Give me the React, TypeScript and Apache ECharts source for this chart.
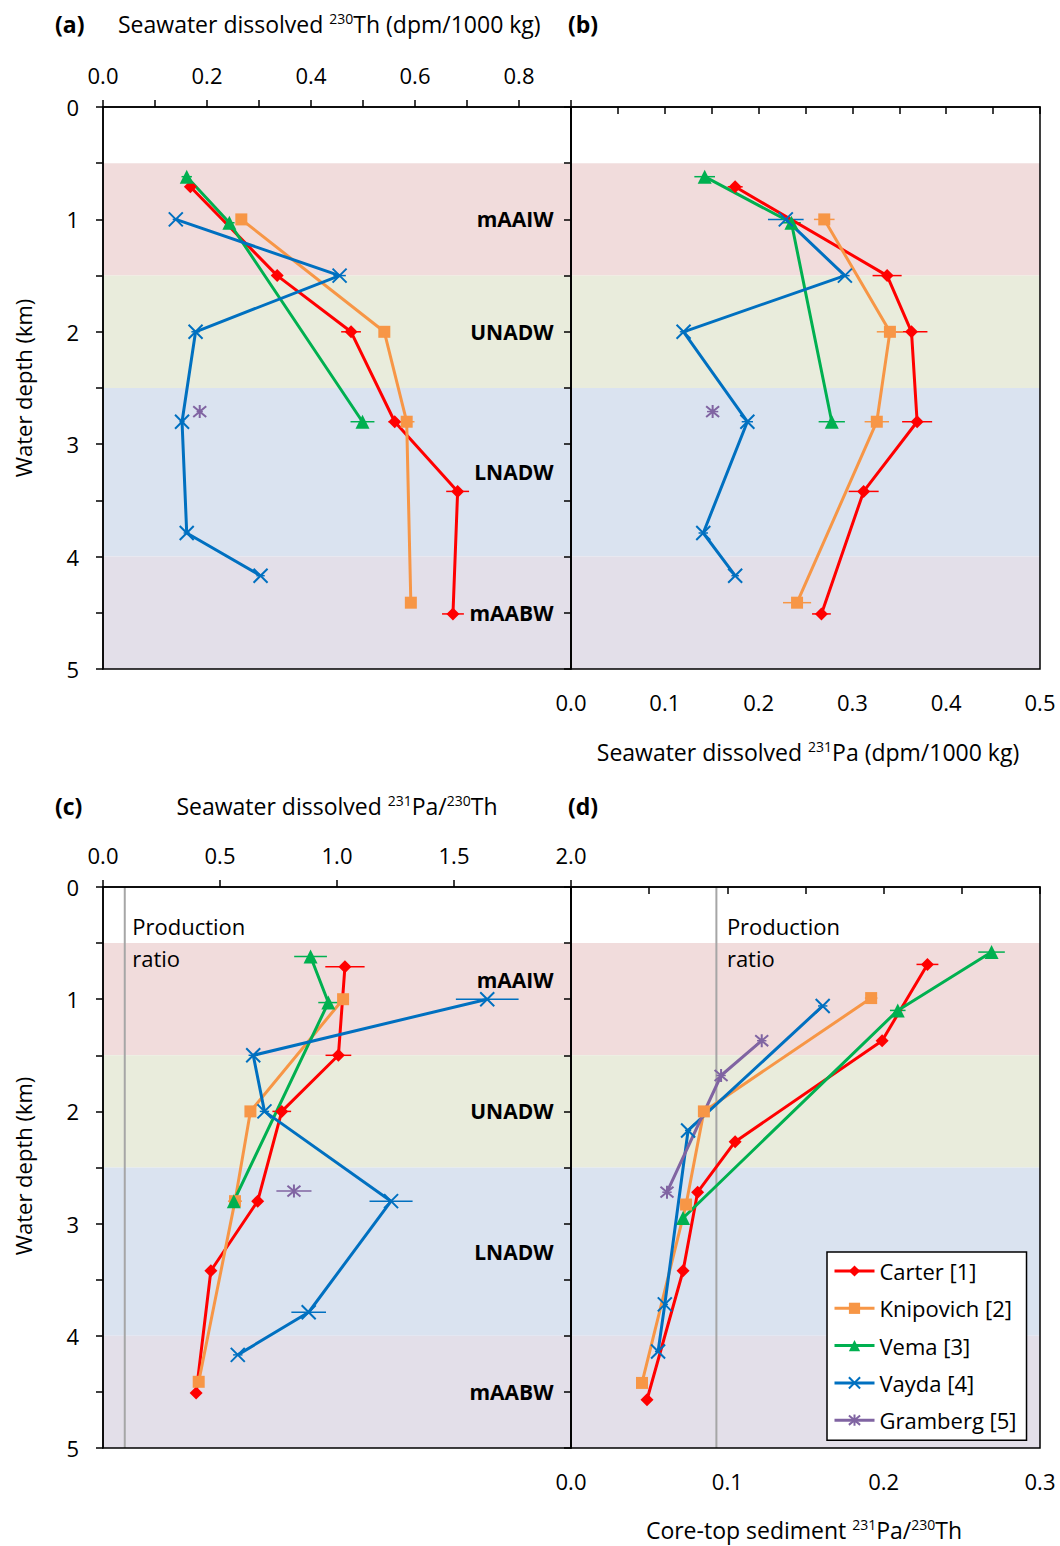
import React, { useEffect, useRef } from 'react';
import * as echarts from 'echarts';

const FONT = '"Open Sans", "Noto Sans", sans-serif';
const FS = 22;
const TFS = 23;

// ---------- Data ----------
// Water-column station depths (km)
const carterDepth = [0.71, 1.5, 2.0, 2.8, 3.42, 4.51];
const knipovichDepth = [1.0, 2.0, 2.8, 4.41];
const vemaDepth = [0.62, 1.03, 2.8];
const vaydaDepth = [1.0, 1.5, 2.0, 2.8, 3.79, 4.17];
const grambergDepth = [2.71];

// (a) Seawater dissolved 230Th (dpm/1000 kg)
const carterTh = [0.168, 0.335, 0.477, 0.561, 0.682, 0.673];
const knipovichTh = [0.266, 0.541, 0.584, 0.592];
const vemaTh = [0.161, 0.243, 0.499];
const vaydaTh = [0.14, 0.455, 0.178, 0.152, 0.161, 0.303];
const grambergTh = [0.186];
const carterThErr = [0.008, 0.01, 0.019, 0.012, 0.022, 0.021];
const knipovichThErr = [0.01, 0.01, 0.015, 0.008];
const vemaThErr = [0.01, 0.01, 0.023];
const vaydaThErr = [0.006, 0.012, 0.008, 0.005, 0.006, 0.008];
const grambergThErr = [0.006];

// (b) Seawater dissolved 231Pa (dpm/1000 kg)
const carterPa = [0.175, 0.337, 0.363, 0.369, 0.312, 0.267];
const knipovichPa = [0.27, 0.34, 0.326, 0.241];
const vemaPa = [0.1425, 0.235, 0.278];
const vaydaPa = [0.229, 0.292, 0.12, 0.188, 0.141, 0.175];
const grambergPa = [0.151];
const carterPaErr = [0.008, 0.0155, 0.017, 0.016, 0.016, 0.01];
const knipovichPaErr = [0.011, 0.014, 0.013, 0.015];
const vemaPaErr = [0.011, 0.01, 0.014];
const vaydaPaErr = [0.019, 0.005, 0.004, 0.006, 0.005, 0.004];
const grambergPaErr = [0.006];

// (c) Seawater dissolved 231Pa/230Th
const carterRatio = [1.034, 1.006, 0.764, 0.661, 0.461, 0.398];
const knipovichRatio = [1.026, 0.63, 0.564, 0.409];
const vemaRatio = [0.887, 0.963, 0.559];
const vaydaRatio = [1.642, 0.642, 0.69, 1.231, 0.879, 0.576];
const grambergRatio = [0.816];
const carterRatioErr = [0.084, 0.055, 0.04, 0.02, 0.015, 0.012];
const knipovichRatioErr = [0.02, 0.012, 0.03, 0.015];
const vemaRatioErr = [0.07, 0.043, 0.02];
const vaydaRatioErr = [0.134, 0.02, 0.02, 0.092, 0.074, 0.02];
const grambergRatioErr = [0.075];

// (d) Core-top sediment 231Pa/230Th
const carterSedDepth = [0.69, 1.37, 2.27, 2.72, 3.42, 4.57];
const knipovichSedDepth = [0.99, 2.0, 2.83, 4.42];
const vemaSedDepth = [0.58, 1.1, 2.95];
const vaydaSedDepth = [1.06, 2.17, 3.72, 4.14];
const grambergSedDepth = [1.37, 1.68, 2.72];
const carterSed = [0.228, 0.199, 0.105, 0.081, 0.0717, 0.0486];
const knipovichSed = [0.192, 0.085, 0.0736, 0.0454];
const vemaSed = [0.269, 0.209, 0.0717];
const vaydaSed = [0.161, 0.0749, 0.06, 0.0557];
const grambergSed = [0.122, 0.096, 0.0614];
const carterSedErr = [0.007, 0.003, 0.002, 0.002, 0.002, 0.002];
const knipovichSedErr = [0.004, 0.003, 0.002, 0.002];
const vemaSedErr = [0.0085, 0.005, 0.002];
const vaydaSedErr = [0.003, 0.002, 0.002, 0.002];
const grambergSedErr = [0.003, 0.003, 0.003];

const productionRatio = 0.093;

// Water masses
const waterMasses = ['mAAIW', 'UNADW', 'LNADW', 'mAABW'];
const bandTop = [0.5, 1.5, 2.5, 4.0];
const bandBottom = [1.5, 2.5, 4.0, 5.0];
const labelDepthA = [1.0, 2.0, 3.25, 4.5];
const labelDepthC = [0.83, 2.0, 3.25, 4.5];

// Axis ranges
const thMax = 0.9;
const paMax = 0.5;
const ratioMax = 2.0;
const sedMax = 0.3;
const depthMax = 5;

// ---------- Styles ----------
const bandColors = ['#f1dcdc', '#e9ecdc', '#dae3f0', '#e3dfe9'];
const names = ['Carter [1]', 'Knipovich [2]', 'Vema [3]', 'Vayda [4]', 'Gramberg [5]'];
const colors = ['#ff0000', '#f79646', '#00b050', '#0070c0', '#8064a2'];
const symbols = [
  'diamond',
  'rect',
  'triangle',
  'path://M0,0L10,10M10,0L0,10',
  'path://M0,0L10,10M10,0L0,10M5,-1L5,11',
];
const symbolSizes = [13, 12, 14, 14, 13];
const strokeSymbol = [false, false, false, true, true];

const datasets = [
  { depth: carterDepth, th: carterTh, thE: carterThErr, pa: carterPa, paE: carterPaErr, r: carterRatio, rE: carterRatioErr, sd: carterSedDepth, s: carterSed, sE: carterSedErr },
  { depth: knipovichDepth, th: knipovichTh, thE: knipovichThErr, pa: knipovichPa, paE: knipovichPaErr, r: knipovichRatio, rE: knipovichRatioErr, sd: knipovichSedDepth, s: knipovichSed, sE: knipovichSedErr },
  { depth: vemaDepth, th: vemaTh, thE: vemaThErr, pa: vemaPa, paE: vemaPaErr, r: vemaRatio, rE: vemaRatioErr, sd: vemaSedDepth, s: vemaSed, sE: vemaSedErr },
  { depth: vaydaDepth, th: vaydaTh, thE: vaydaThErr, pa: vaydaPa, paE: vaydaPaErr, r: vaydaRatio, rE: vaydaRatioErr, sd: vaydaSedDepth, s: vaydaSed, sE: vaydaSedErr },
  { depth: grambergDepth, th: grambergTh, thE: grambergThErr, pa: grambergPa, paE: grambergPaErr, r: grambergRatio, rE: grambergRatioErr, sd: grambergSedDepth, s: grambergSed, sE: grambergSedErr },
];

function buildOption() {
  const grids = [
    { left: 103, top: 107, width: 468, height: 562 },
    { left: 571, top: 107, width: 469, height: 562 },
    { left: 103, top: 887, width: 468, height: 561 },
    { left: 571, top: 887, width: 469, height: 561 },
  ].map((g) => ({ ...g, show: true, borderColor: '#000', borderWidth: 1.5, backgroundColor: 'transparent', z: 6 }));

  const axisLine = { show: true, lineStyle: { color: '#000', width: 1.5 } };
  const axisTick = { show: true, inside: false, length: 7, lineStyle: { color: '#000', width: 1.5 } };
  const labelStyle = { color: '#000', fontSize: FS, fontFamily: FONT };

  const even = (v: number, step: number, maxLab: number) => {
    const k = Math.round(v / step);
    return k % 2 === 0 && v <= maxLab + 1e-9 ? v.toFixed(1) : '';
  };

  const xAxis: any[] = [
    { gridIndex: 0, type: 'value', position: 'top', min: 0, max: thMax, interval: 0.1, axisLine, axisTick,
      axisLabel: { ...labelStyle, margin: 21, formatter: (v: number) => even(v, 0.1, 0.8) }, splitLine: { show: false }, z: 7 },
    { gridIndex: 1, type: 'value', position: 'bottom', min: 0, max: paMax, interval: 0.05, axisLine, axisTick,
      axisLabel: { ...labelStyle, margin: 22, formatter: (v: number) => even(v, 0.05, 0.5) }, splitLine: { show: false }, z: 7 },
    { gridIndex: 2, type: 'value', position: 'top', min: 0, max: ratioMax, interval: 0.5, axisLine, axisTick,
      axisLabel: { ...labelStyle, margin: 21, formatter: (v: number) => v.toFixed(1) }, splitLine: { show: false }, z: 7 },
    { gridIndex: 3, type: 'value', position: 'bottom', min: 0, max: sedMax, interval: 0.05, axisLine, axisTick,
      axisLabel: { ...labelStyle, margin: 22, formatter: (v: number) => even(v, 0.05, 0.3) }, splitLine: { show: false }, z: 7 },
  ];

  const intLabel = (v: number) => (Math.abs(v - Math.round(v)) < 1e-6 ? String(Math.round(v)) : '');
  const yAxis: any[] = [0, 1, 2, 3].map((i) => ({
    gridIndex: i, type: 'value', inverse: true, min: 0, max: depthMax, interval: 0.5, position: 'left',
    axisLine, axisTick,
    axisLabel: { ...labelStyle, show: i % 2 === 0, margin: 24, formatter: intLabel },
    splitLine: { show: false }, z: 7,
  }));

  const series: any[] = [];

  // Water-mass bands
  for (let g = 0; g < 4; g++) {
    series.push({
      type: 'custom', xAxisIndex: g, yAxisIndex: g, silent: true, z: 1,
      data: waterMasses.map((_, i) => [bandTop[i], bandBottom[i], i]),
      encode: { y: [0, 1] },
      renderItem: (params: any, api: any) => {
        const cs = params.coordSys;
        const y0 = api.coord([0, api.value(0)])[1];
        const y1 = api.coord([0, api.value(1)])[1];
        return {
          type: 'rect',
          shape: { x: cs.x, y: Math.min(y0, y1), width: cs.width, height: Math.abs(y1 - y0) },
          style: { fill: bandColors[api.value(2)] },
        };
      },
    });
  }

  // Production ratio lines (c, d)
  [2, 3].forEach((g) => {
    series.push({
      type: 'line', xAxisIndex: g, yAxisIndex: g, silent: true, z: 2, symbol: 'none',
      data: [[productionRatio, 0], [productionRatio, depthMax]],
      lineStyle: { color: '#a6a6a6', width: 2 },
    });
    series.push({
      type: 'scatter', xAxisIndex: g, yAxisIndex: g, silent: true, z: 8, symbolSize: 1,
      itemStyle: { color: 'rgba(0,0,0,0)', opacity: 1 },
      data: [[productionRatio, 0.49]],
      label: {
        show: true, position: 'right', distance: g === 2 ? 7 : 10, formatter: 'Production\nratio',
        color: '#000', opacity: 1, fontSize: FS, fontFamily: FONT, lineHeight: 32, align: 'left',
      },
    });
  });

  // Water-mass labels (a, c)
  [[0, thMax, labelDepthA], [2, ratioMax, labelDepthC]].forEach(([g, xm, depths]: any) => {
    series.push({
      type: 'scatter', xAxisIndex: g, yAxisIndex: g, silent: true, z: 8, symbolSize: 1,
      itemStyle: { color: 'rgba(0,0,0,0)', opacity: 1 },
      data: waterMasses.map((n, i) => ({ value: [xm, depths[i]], name: n })),
      label: {
        show: true, position: 'left', distance: 17, formatter: '{b}', opacity: 1,
        color: '#000', fontSize: FS - 1, fontWeight: 'bold', fontFamily: FONT,
      },
    });
  });

  const panels: [string, string, string][] = [
    ['th', 'thE', 'depth'],
    ['pa', 'paE', 'depth'],
    ['r', 'rE', 'depth'],
    ['s', 'sE', 'sd'],
  ];

  panels.forEach(([vk, ek, dk], g) => {
    datasets.forEach((ds: any, si) => {
      const vals: number[] = ds[vk];
      const errs: number[] = ds[ek];
      const deps: number[] = ds[dk];
      const color = colors[si];
      series.push({
        type: 'custom', xAxisIndex: g, yAxisIndex: g, silent: true, z: 3,
        data: vals.map((v, i) => [v, deps[i], errs[i]]),
        encode: { x: 0, y: 1 },
        renderItem: (params: any, api: any) => {
          const x = api.value(0), y = api.value(1), e = api.value(2);
          const p1 = api.coord([x - e, y]);
          const p2 = api.coord([x + e, y]);
          return {
            type: 'line',
            shape: { x1: p1[0], y1: p1[1], x2: p2[0], y2: p2[1] },
            style: { stroke: color, lineWidth: 1.5 },
          };
        },
      });
      series.push({
        type: 'line', name: names[si], xAxisIndex: g, yAxisIndex: g, z: 4, silent: true,
        data: vals.map((v, i) => [v, deps[i]]),
        symbol: symbols[si], symbolSize: symbolSizes[si], showAllSymbol: true,
        itemStyle: strokeSymbol[si]
          ? { color: color, borderColor: color, borderWidth: 2 }
          : { color: color, borderWidth: 0 },
        lineStyle: { color, width: 3 },
      });
    });
  });

  const rich = {
    n: { fontSize: TFS, fontFamily: FONT, fill: '#000', lineHeight: 26 },
    s: { fontSize: 14, fontFamily: FONT, fill: '#000', verticalAlign: 'top', lineHeight: 16 },
  };
  const titleText = (x: number, y: number, text: string, align = 'left') => ({
    type: 'text', x, y, silent: true,
    style: { text, rich, align, verticalAlign: 'middle', fill: '#000', fontSize: TFS, fontFamily: FONT },
  });
  const panelLabel = (x: number, y: number, t: string) => ({
    type: 'text', x, y, silent: true,
    style: { text: t, align: 'left', verticalAlign: 'middle', fill: '#000', fontSize: TFS, fontWeight: 'bold', fontFamily: FONT },
  });
  const yTitle = (x: number, y: number) => ({
    type: 'text', x, y, rotation: Math.PI / 2, silent: true,
    style: { text: 'Water depth (km)', align: 'center', verticalAlign: 'middle', fill: '#000', fontSize: FS, fontFamily: FONT },
  });

  const graphic = [
    panelLabel(55, 24, '(a)'),
    titleText(118, 24, '{n|Seawater dissolved }{s|230}{n|Th (dpm/1000 kg)}'),
    panelLabel(568, 24, '(b)'),
    titleText(808, 752, '{n|Seawater dissolved }{s|231}{n|Pa (dpm/1000 kg)}', 'center'),
    panelLabel(55, 806, '(c)'),
    titleText(337, 806, '{n|Seawater dissolved }{s|231}{n|Pa/}{s|230}{n|Th}', 'center'),
    panelLabel(568, 806, '(d)'),
    titleText(804, 1530, '{n|Core-top sediment }{s|231}{n|Pa/}{s|230}{n|Th}', 'center'),
    yTitle(23, 388),
    yTitle(23, 1166),
  ];

  return {
    animation: false,
    backgroundColor: '#fff',
    textStyle: { fontFamily: FONT },
    grid: grids,
    xAxis,
    yAxis,
    legend: {
      data: names,
      orient: 'vertical',
      left: 827,
      top: 1252,
      backgroundColor: '#fff',
      borderColor: '#000',
      borderWidth: 1.5,
      borderRadius: 0,
      padding: [8, 10, 9, 6],
      itemWidth: 40,
      itemHeight: 14,
      itemGap: 15.3,
      selectedMode: false,
      lineStyle: { width: 3 },
      textStyle: { fontSize: FS, fontFamily: FONT, color: '#000' },
      z: 10,
    },
    graphic,
    series,
  };
}

export default function App() {
  const ref = useRef<HTMLDivElement>(null);
  useEffect(() => {
    if (!ref.current) return;
    const chart = echarts.init(ref.current, undefined, { renderer: 'svg' });
    chart.setOption(buildOption() as any);
    return () => chart.dispose();
  }, []);
  return (
    <div
      ref={ref}
      style={{ position: 'absolute', left: 0, top: 0, width: 1060, height: 1546, background: '#fff' }}
    />
  );
}
